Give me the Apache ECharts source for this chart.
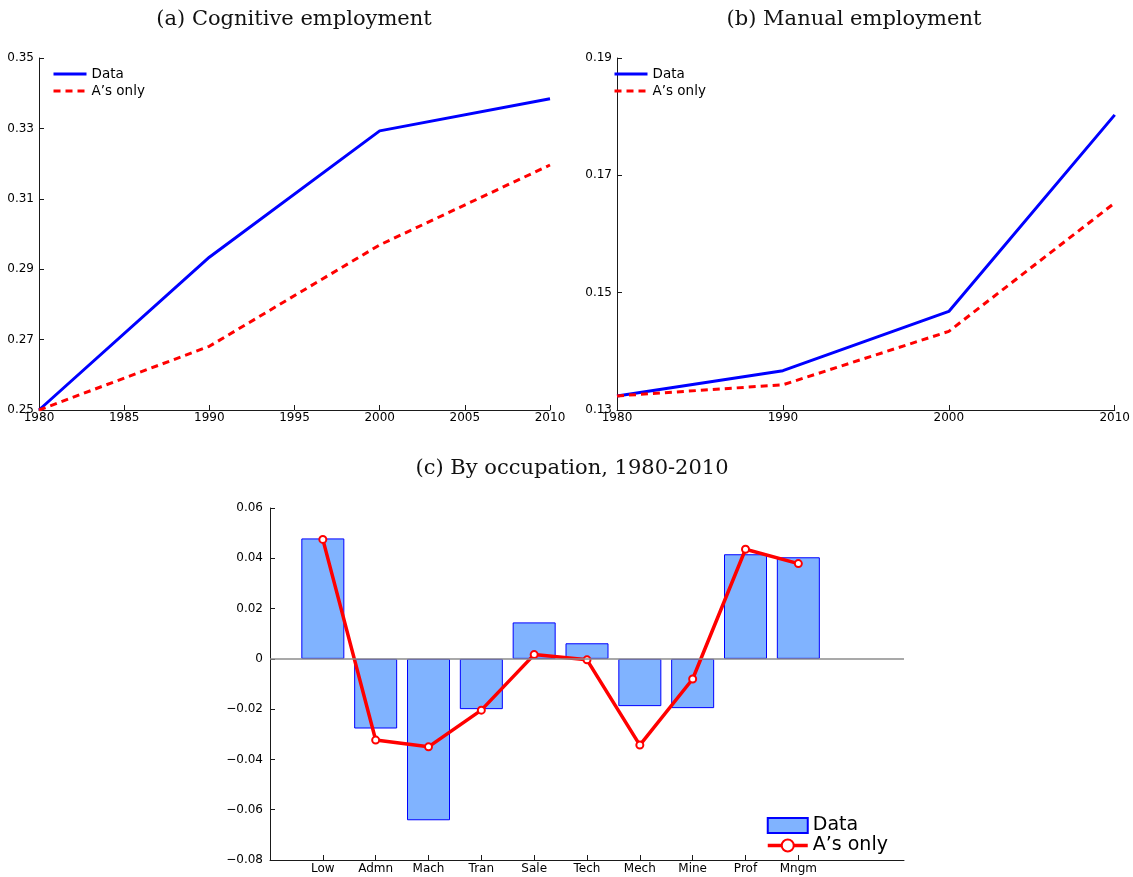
<!DOCTYPE html>
<html>
<head>
<meta charset="utf-8">
<script src="https://cdn.jsdelivr.net/npm/echarts@6/dist/echarts.min.js"></script>
<style>
  html, body { margin: 0; padding: 0; background: #fff; }
  .wrap { position: relative; width: 1133px; height: 877px; }
  .chart { position: absolute; }
  #chartA { left: 0; top: 0; width: 578px; height: 440px; }
  #chartB { left: 578px; top: 0; width: 555px; height: 440px; }
  #chartC { left: 0; top: 440px; width: 1133px; height: 437px; }
</style>
</head>
<body>
<div class="wrap">
  <div id="chartA" class="chart"></div>
  <div id="chartB" class="chart"></div>
  <div id="chartC" class="chart"></div>
</div>
<script>
// ---- data ----
const years = [1980, 1990, 2000, 2010];
const cogData = [0.25, 0.2934, 0.3293, 0.3384];
const cogAOnly = [0.25, 0.2681, 0.2969, 0.3196];
const manData = [0.1324, 0.1367, 0.1468, 0.1803];
const manAOnly = [0.1324, 0.1343, 0.1434, 0.1653];

const occupations = ["Low", "Admn", "Mach", "Tran", "Sale", "Tech", "Mech", "Mine", "Prof", "Mngm"];
const occData = [0.0479, -0.0277, -0.0642, -0.0200, 0.0145, 0.0062, -0.0188, -0.0196, 0.0416, 0.0404];
const occAOnly = [0.0475, -0.0323, -0.0350, -0.0204, 0.0017, -0.0004, -0.0343, -0.0080, 0.0436, 0.0379];

// tick labels
const cogYTicks = [0.25, 0.27, 0.29, 0.31, 0.33, 0.35];
const manYTicks = [0.13, 0.15, 0.17, 0.19];
const occYTicks = [-0.08, -0.06, -0.04, -0.02, 0, 0.02, 0.04, 0.06];
const occXTicks = [1, 2, 3, 4, 5, 6, 7, 8, 9, 10];

const AXIS_COLOR = "#1a1a1a";
const SANS = "'DejaVu Sans', sans-serif";
const SERIF = "'DejaVu Serif', 'Liberation Serif', serif";

const fmtNum = (v) => {
  const r = Math.round(v * 100) / 100;
  if (r === 0) return "0";
  return r < 0 ? "\u2212" + Math.abs(r).toFixed(2) : r.toFixed(2);
};

const axisBase = {
  axisLine: { show: true, onZero: false, lineStyle: { color: AXIS_COLOR, width: 1 } },
  axisTick: { show: true, inside: true, length: 5, lineStyle: { color: AXIS_COLOR } },
  splitLine: { show: false },
};

// 上面两张折线图共用
const topChart = (el, title, titleX, xInterval, yTicks, dataVals, aVals, legendLeft) => {
  const chart = echarts.init(document.getElementById(el));
  chart.setOption({
    animation: false,
    title: {
      text: title,
      left: titleX,
      top: 4,
      textAlign: "center",
      textStyle: { fontFamily: SERIF, fontWeight: "normal", fontSize: 21, color: "#111" },
    },
    legend: {
      left: legendLeft,
      top: 67,
      padding: 0,
      orient: "vertical",
      itemWidth: 33,
      itemHeight: 12,
      itemGap: 3,
      itemStyle: { opacity: 0 }, // 图例只要线，不要圆点
      lineStyle: { width: 3 },
      textStyle: { fontFamily: SANS, fontSize: 13.5, lineHeight: 14, color: "#000" },
      data: ["Data", "A\u2019s only"],
    },
    grid: { left: 39, top: 58, width: 511, height: 352 },
    xAxis: {
      ...axisBase,
      type: "value",
      min: years[0],
      max: years[years.length - 1],
      interval: xInterval,
      axisLabel: { fontFamily: SANS, fontSize: 12, color: "#000", margin: 2, formatter: (v) => String(v) },
    },
    yAxis: {
      ...axisBase,
      type: "value",
      min: yTicks[0],
      max: yTicks[yTicks.length - 1],
      axisTick: { ...axisBase.axisTick, customValues: yTicks },
      axisLabel: {
        fontFamily: SANS, fontSize: 12, color: "#000", margin: 5,
        customValues: yTicks, formatter: fmtNum,
      },
    },
    series: [
      {
        name: "Data",
        type: "line",
        data: years.map((y, i) => [y, dataVals[i]]),
        symbol: "none",
        lineStyle: { color: "#0000ff", width: 3 },
        itemStyle: { color: "#0000ff" },
      },
      {
        name: "A\u2019s only",
        type: "line",
        data: years.map((y, i) => [y, aVals[i]]),
        symbol: "none",
        lineStyle: { color: "#ff0000", width: 3, type: [7, 5] },
        itemStyle: { color: "#ff0000" },
      },
    ],
  });
  return chart;
};

const chartA = topChart("chartA", "(a) Cognitive employment", 289, 5, cogYTicks, cogData, cogAOnly, 52);
const chartB = topChart("chartB", "(b) Manual employment", 271, 10, manYTicks, manData, manAOnly, 35);

// 下方柱状图 + 折线
const chartC = echarts.init(document.getElementById("chartC"));
chartC.setOption({
  animation: false,
  title: {
    text: "(c) By occupation, 1980-2010",
    left: 567,
    top: 13,
    textAlign: "center",
    textStyle: { fontFamily: SERIF, fontWeight: "normal", fontSize: 21, color: "#111" },
  },
  legend: {
    left: 766,
    top: 376,
    padding: 0,
    orient: "vertical",
    itemWidth: 40,
    itemHeight: 15,
    itemGap: 1,
    lineStyle: { width: 3.5 },
    textStyle: { fontFamily: SANS, fontSize: 19, lineHeight: 19, color: "#000" },
    data: [
      { name: "Data", icon: "rect" },
      { name: "A\u2019s only" },
    ],
  },
  grid: { left: 270, top: 68, width: 634, height: 352 },
  xAxis: {
    ...axisBase,
    type: "value",
    min: 0,
    max: 12,
    interval: 1,
    axisTick: { ...axisBase.axisTick, customValues: occXTicks },
    axisLabel: {
      fontFamily: SANS, fontSize: 12, color: "#000", margin: 3,
      customValues: occXTicks,
      formatter: (v) => occupations[v - 1] || "",
    },
  },
  yAxis: {
    ...axisBase,
    type: "value",
    min: -0.08,
    max: 0.06,
    interval: 0.02,
    axisTick: { ...axisBase.axisTick, customValues: occYTicks },
    axisLabel: {
      fontFamily: SANS, fontSize: 12, color: "#000", margin: 7,
      customValues: occYTicks, formatter: fmtNum,
    },
  },
  series: [
    {
      name: "Data",
      type: "bar",
      barWidth: 43,
      data: occupations.map((_, i) => [i + 1, occData[i]]),
      itemStyle: { color: "#80b3ff", borderColor: "#0000ff", borderWidth: 1 },
      markLine: {
        silent: true,
        symbol: "none",
        label: { show: false },
        lineStyle: { color: "#8c8c8c", width: 1.5, type: "solid" },
        data: [{ yAxis: 0 }],
      },
    },
    {
      name: "A\u2019s only",
      type: "line",
      data: occupations.map((_, i) => [i + 1, occAOnly[i]]),
      symbol: "emptyCircle",
      symbolSize: 7,
      lineStyle: { color: "#ff0000", width: 3.5 },
      itemStyle: { color: "#ff0000", borderColor: "#ff0000", borderWidth: 4.5 },
    },
  ],
});
</script>
</body>
</html>
